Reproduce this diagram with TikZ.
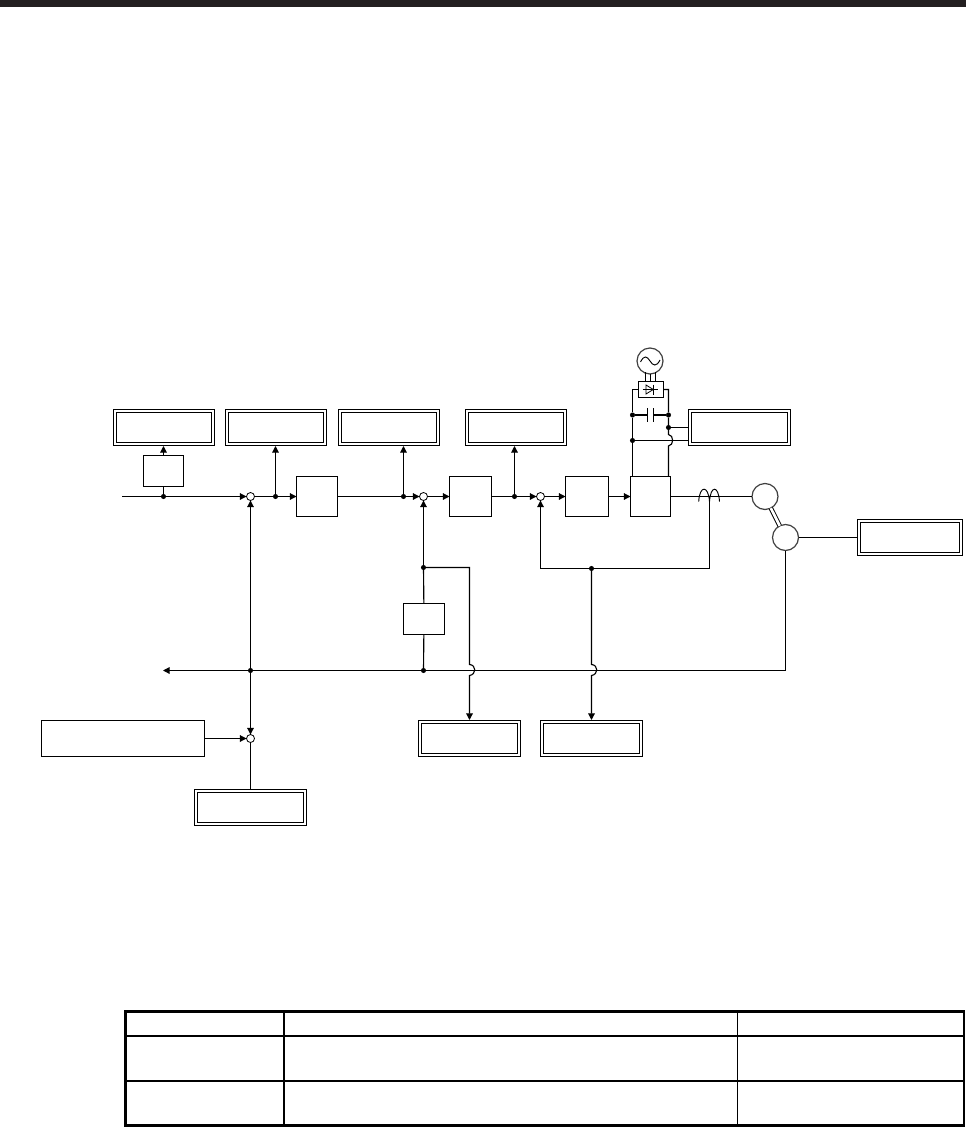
\documentclass[tikz,border=0pt]{standalone}
\usetikzlibrary{arrows.meta,calc}
\definecolor{barcol}{HTML}{231F20}
\tikzset{
  x=0.75pt,y=-0.75pt,
  wire/.style={line width=0.85pt,black},
  feed/.style={wire,-{Triangle[length=5pt,width=5pt]}},
  pbox/.style 2 args={draw=black,line width=0.85pt,fill=white,inner sep=0pt,outer sep=0pt,
    minimum width=#1*0.75pt,minimum height=#2*0.75pt},
  dblbox/.style 2 args={draw=black,line width=0.75pt,double=white,double distance=1.5pt,
    inner sep=0pt,outer sep=1.5pt,
    minimum width=(#1-4)*0.75pt,minimum height=(#2-4)*0.75pt},
  sumj/.style={circle,draw=black,line width=0.6pt,fill=white,inner sep=0pt,outer sep=0pt,minimum size=6pt},
  dotj/.style={circle,fill=black,inner sep=0pt,outer sep=0pt,minimum size=3.8pt},
  mach/.style={circle,draw=black!75,line width=0.9pt,fill=white,inner sep=0pt,outer sep=0pt,minimum size=19.5pt},
  tablethick/.style={line width=1.9pt,black},
  tablethin/.style={line width=0.5pt,black},
  hump/.style={line width=0.7pt,black}
}
\begin{document}
\begin{tikzpicture}
\useasboundingbox (0,0) rectangle (966,1127);
\fill[white] (0,0) rectangle (966,1127);
\fill[barcol] (0,0) rectangle (966,7);

% double boxes
\node[dblbox={102}{37}] (m1) at (163.5,427.5) {};
\node[dblbox={102}{37}] (m2) at (275.5,427.5) {};
\node[dblbox={102}{37}] (m3) at (388.5,427.5) {};
\node[dblbox={102}{37}] (m4) at (515.5,427.5) {};
\node[dblbox={103}{37}] (m5) at (739.5,427.5) {};
\node[dblbox={106}{37}] (m6) at (910,537.5) {};
\node[dblbox={103}{37}] (m7) at (469.5,738.5) {};
\node[dblbox={103}{37}] (m8) at (591.5,738.5) {};
\node[dblbox={113}{37}] (m9) at (250.5,807.5) {};
\node[pbox={163}{36}] (offs) at (123,738.5) {};

% blocks
\node[pbox={40}{31}] (conv) at (163.5,471) {};
\node[pbox={41}{40}] (c1) at (317,496.5) {};
\node[pbox={42}{40}] (c2) at (470.5,496.5) {};
\node[pbox={43}{40}] (c3) at (587,496.5) {};
\node[pbox={40}{40}] (inv) at (650.5,496.5) {};
\node[pbox={41}{31}] (diff) at (424,619) {};
\node[pbox={25}{16}] (rect) at (651,389.5) {};

% junctions
\node[sumj] (s1) at (250.5,496.5) {};
\node[sumj] (s2) at (423.5,496.5) {};
\node[sumj] (s3) at (540.5,496.5) {};
\node[sumj] (s4) at (250.5,738.5) {};
\node[dotj] (d1) at (163.5,496.5) {};
\node[dotj] (d2) at (275.5,496.5) {};
\node[dotj] (d3) at (403.5,496.5) {};
\node[dotj] (d4) at (514.5,496.5) {};
\node[dotj] (d5) at (250.5,670.5) {};
\node[dotj] (d6) at (423.5,670.5) {};
\node[dotj] (d7) at (423.5,567.5) {};
\node[dotj] (d8) at (591.5,568.5) {};
\node[dotj] (b1) at (632.5,415) {};
\node[dotj] (b2) at (668.5,415) {};
\node[dotj] (b3) at (668.5,427.5) {};
\node[dotj] (b4) at (632.5,440.5) {};

% machines
\node[mach] (ac) at (650,361) {};
\node[mach] (motor) at (765,496.5) {};
\node[mach] (enc) at (785.5,537.5) {};

% free ends and routing points
\coordinate (in) at (122,496.5);
\coordinate (ret) at (163,670.5);
\coordinate (corner) at (785.5,670.5);
\coordinate (coilj) at (709.5,496.5);
\coordinate (loopl) at (540.5,568.5);
\coordinate (loopr) at (709.5,568.5);
\coordinate (tap) at (469.5,567.5);
\coordinate (capl) at (647.5,415);
\coordinate (capr) at (653.5,415);
\coordinate (lt) at (632.5,389.5);
\coordinate (rt) at (668.5,389.5);

% forward path
\draw[wire] (in) -- (d1);
\draw[feed] (d1) -- (s1);
\draw[wire] (s1) -- (d2);
\draw[feed] (d2) -- (c1);
\draw[wire] (c1) -- (d3);
\draw[feed] (d3) -- (s2);
\draw[feed] (s2) -- (c2);
\draw[wire] (c2) -- (d4);
\draw[feed] (d4) -- (s3);
\draw[feed] (s3) -- (c3);
\draw[feed] (c3) -- (inv);
\draw[wire] (inv) -- (motor);
\draw[wire] (d1) -- (conv);
\draw[feed] (conv) -- (m1);
\draw[feed] (d2) -- (d2 |- m2.south);
\draw[feed] (d3) -- (d3 |- m3.south);
\draw[feed] (d4) -- (d4 |- m4.south);

% feedback
\draw[wire] (enc) -- (m6.west |- enc);
\draw[wire,double=white,double distance=2pt,line width=0.7pt] (motor) -- (enc);
\draw[wire] (enc) -- (corner) -- (d6) -- (d5);
\draw[feed] (d5) -- (ret);
\draw[feed] (d5) -- (s1);
\draw[feed] (d5) -- (s4);
\draw[wire] (d6) -- (diff);
\draw[wire] (diff) -- (d7);
\draw[feed] (d7) -- (s2);
\draw[feed] (offs) -- (s4);
\draw[wire] (s4) -- (m9);
\draw[feed] (loopl) -- (s3);
\draw[wire] (loopl) -- (loopr) -- (coilj);

% taps with line jumps
\draw[feed] (d7) -- (tap) -- ($(tap)+(0,97)$)
  .. controls ($(tap)+(7,97.5)$) and ($(tap)+(7,107)$) .. ($(tap)+(0,108)$) -- (tap |- m7.north);
\draw[feed] (d8) -- ($(d8)+(0,96)$)
  .. controls ($(d8)+(7,96.5)$) and ($(d8)+(7,106)$) .. ($(d8)+(0,107)$) -- (d8 |- m8.north);

% coil
\draw[hump] (698.7,501.7) .. controls (699.5,485) and (708.5,485) .. (709.5,501.7)
  .. controls (710.5,485) and (718.5,485) .. (719.5,501.7);

% DC bus
\draw[wire] (rect.west |- lt) -- (lt) -- (b1) -- (b4) -- (inv.north -| b4);
\draw[wire] (rect.east |- rt) -- (rt) -- (b2) -- (b3) -- (668.5,434.5)
  .. controls (674,435) and (674,445.5) .. (668.5,446) -- (inv.north -| b3);
\draw[wire] (b1) -- (capl);
\draw[wire] (b2) -- (capr);
\draw[wire] (capl |- 0,408) -- (capl |- 0,422);
\draw[wire] (capr |- 0,408) -- (capr |- 0,422);
\draw[wire] (b3) -- (b3 -| m5.west);
\draw[wire] (b4) -- (b4 -| m5.west);

% supply lines
\draw[wire] (645.5,372) -- (645.5,381.5);
\draw[wire] (650.5,374) -- (650.5,381.5);
\draw[wire] (655.5,372) -- (655.5,381.5);

% rectifier symbol and sine
\draw[line width=0.6pt] (642.7,389.5) -- (658.3,389.5);
\draw[line width=0.6pt] (646,385) -- (653.3,389.5) -- (646,394) -- cycle;
\draw[line width=0.6pt] (653.6,384.5) -- (653.6,394.5);
\draw[line width=0.7pt] (640.5,362) .. controls (644,355) and (647,356) .. (650,361) .. controls (653,366) and (656.5,367) .. (660,360);

% table
\draw[tablethick] (125.5,1011.5) rectangle (964,1125.5);
\draw[tablethick] (125.5,1036) -- (964,1036);
\draw[line width=1.5pt] (125.5,1080.5) -- (964,1080.5);
\draw[line width=1.5pt] (283.5,1011.5) -- (283.5,1125.5);
\draw[tablethin] (737,1011.5) -- (737,1125.5);
\end{tikzpicture}
\end{document}
